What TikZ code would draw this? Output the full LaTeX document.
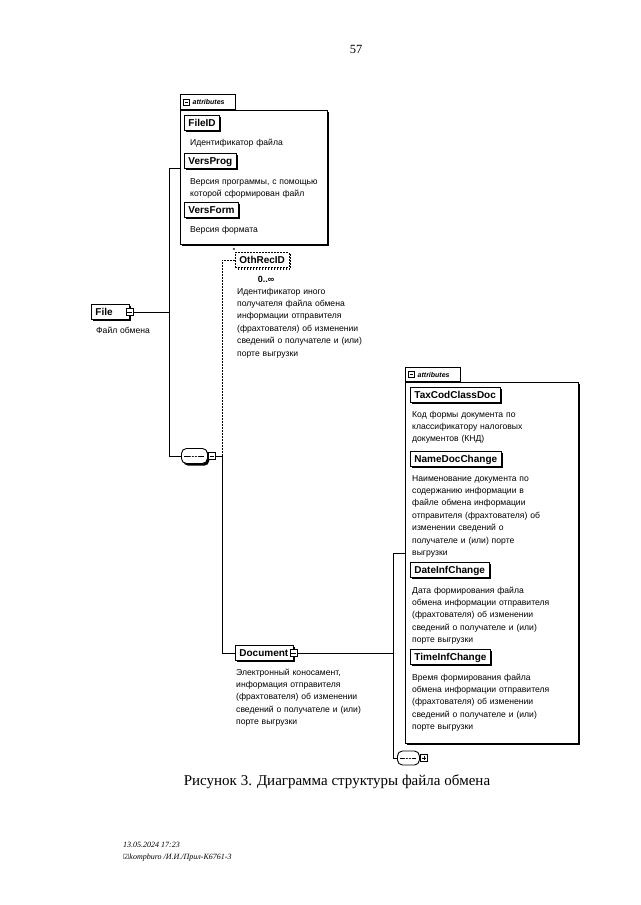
\documentclass[tikz,border=0pt]{standalone}
\usepackage{fontspec}
\setmainfont{Liberation Serif}
\newfontfamily\arialf{Liberation Sans}
\newfontfamily\dejavuf{DejaVu Sans}
\usetikzlibrary{shadows,calc}
\tikzset{
  conn/.style={line width=0.9pt},
  optconn/.style={line width=0.9pt, dash pattern=on 1.6pt off 1.4pt},
  elem/.style={draw, line width=0.8pt, fill=white, anchor=west,
    font=\arialf\fontsize{10}{11}\selectfont\bfseries,
    inner xsep=4pt, inner ysep=0pt, minimum height=14.5pt, text height=7.5pt, text depth=1.5pt,
    drop shadow={shadow xshift=1.7pt, shadow yshift=-1.7pt, fill=black, opacity=1}},
  optelem/.style={draw, line width=0.8pt, fill=white, anchor=west, dash pattern=on 1.6pt off 1.4pt,
    font=\arialf\fontsize{10}{11}\selectfont\bfseries,
    inner xsep=4pt, inner ysep=0pt, minimum height=14.5pt, text height=7.5pt, text depth=1.5pt},
  desc/.style={font=\arialf\fontsize{8.6}{12.4}\selectfont, text width=200pt, align=left,
    inner sep=0pt, anchor=base west},
  expminus/.style={draw, line width=0.7pt, fill=white, minimum size=7.5pt, inner sep=0pt,
    path picture={\draw[line width=0.7pt] ([xshift=1.3pt]path picture bounding box.west) -- ([xshift=-1.3pt]path picture bounding box.east);}},
  expplus/.style={expminus,
    path picture={\draw[line width=0.7pt] ([xshift=1.3pt]path picture bounding box.west) -- ([xshift=-1.3pt]path picture bounding box.east);
      \draw[line width=0.7pt] ([yshift=-1.3pt]path picture bounding box.north) -- ([yshift=1.3pt]path picture bounding box.south);}},
  attrbox/.style={draw, line width=0.9pt, fill=white, anchor=north west, inner sep=0pt,
    drop shadow={shadow xshift=1.2pt, shadow yshift=-1.2pt, fill=black, opacity=1}},
  attrtab/.style={draw, line width=0.9pt, fill=white, anchor=south west, inner sep=0pt},
  tabtext/.style={font=\arialf\bfseries\itshape\fontsize{7}{8}\selectfont, inner sep=0pt, anchor=west},
  seqbox/.style={draw, line width=0.9pt, fill=white, rounded corners=5pt, minimum width=26pt,
    minimum height=15pt, inner sep=0pt, anchor=west,
    path picture={\draw[line width=0.7pt] ([xshift=3pt]path picture bounding box.west) -- ([xshift=-3pt]path picture bounding box.east);
      \foreach \dx in {-3,0,3}{\fill ([xshift=\dx pt]path picture bounding box.center) circle (1pt);}}},
}
\begin{document}
\begin{tikzpicture}[x=1pt,y=-1pt]
\useasboundingbox (0,0) rectangle (640,905);
\fill[white] (0,0) rectangle (640,905);

% page number
\node[font=\fontsize{12.5}{14}\selectfont, anchor=base, inner sep=0pt] (pagenum) at (356,53) {57};

% ---------- File ----------
\node[elem, text width=30pt, align=left, inner xsep=4pt] (file) at (91,312) {File};
\node[expminus] (fileexp) at (file.east) {};
\node[desc] (filedesc) at (96,333) {Файл обмена};

% ---------- top attributes ----------
\node[attrbox, minimum width=147pt, minimum height=134pt] (attr1) at (180,110) {};
\node[attrtab, minimum width=55pt, minimum height=15pt] (tab1) at (attr1.north west) {};
\node[expminus, minimum size=6pt] (tab1exp) at ($(tab1.west)+(6.5,0)$) {};
\node[tabtext] (tab1txt) at ($(tab1.west)+(12.5,0)$) {attributes};

\node[elem] (fileid) at (184,123) {FileID};
\node[desc] (fileiddesc) at (190,145) {Идентификатор файла};
\node[elem] (versprog) at (184,161) {VersProg};
\node[desc] (versprogdesc) at (190,184) {Версия программы, с помощью\\которой сформирован файл};
\node[elem] (versform) at (184,210) {VersForm};
\node[desc] (versformdesc) at (190,232) {Версия формата};

% ---------- sequence 1 ----------
\node[seqbox, drop shadow={shadow xshift=1.8pt, shadow yshift=-2.2pt, fill=black, opacity=1}] (seq1) at (181,456) {};
\node[expminus, anchor=west] (seq1exp) at (seq1.east) {};

% ---------- OthRecID ----------
\node[optelem] (oth) at (235,260) {OthRecID};
\draw[line width=1.5pt, dash pattern=on 1.6pt off 1.4pt]
  ($(oth.north east)+(1.3,2)$) -- ($(oth.south east)+(1.3,1.3)$) -- ($(oth.south west)+(2,1.3)$);
\node[font=\arialf\bfseries\fontsize{6}{6}\selectfont, inner sep=0pt] (othmark) at ($(oth.north west)+(-1,-1.5)$) {*};
\node[font=\arialf\fontsize{9}{10}\selectfont\bfseries, anchor=base, inner sep=0pt] (othocc) at (266,282) {0..∞};
\node[desc] (othdesc) at (237,294) {Идентификатор иного\\получателя файла обмена\\информации отправителя\\(фрахтователя) об изменении\\сведений о получателе и (или)\\порте выгрузки};

% ---------- Document ----------
\node[elem, text width=50pt, align=left, inner xsep=4pt] (doc) at (235,653) {Document};
\node[expminus] (docexp) at (doc.east) {};
\node[desc] (docdesc) at (236,675) {Электронный коносамент,\\информация отправителя\\(фрахтователя) об изменении\\сведений о получателе и (или)\\порте выгрузки};

% ---------- right attributes ----------
\node[attrbox, minimum width=173pt, minimum height=361pt] (attr2) at (405,382) {};
\node[attrtab, minimum width=55pt, minimum height=14pt] (tab2) at (attr2.north west) {};
\node[expminus, minimum size=6pt] (tab2exp) at ($(tab2.west)+(6.5,0)$) {};
\node[tabtext] (tab2txt) at ($(tab2.west)+(12.5,0)$) {attributes};

\node[elem] (taxcod) at (410,395) {TaxCodClassDoc};
\node[desc] (taxcoddesc) at (412,417) {Код формы документа по\\классификатору налоговых\\документов (КНД)};
\node[elem] (namedoc) at (410,459) {NameDocChange};
\node[desc] (namedocdesc) at (412,481) {Наименование документа по\\содержанию информации в\\файле обмена информации\\отправителя (фрахтователя) об\\изменении сведений о\\получателе и (или) порте\\выгрузки};
\node[elem] (dateinf) at (410,570) {DateInfChange};
\node[desc] (dateinfdesc) at (412,593) {Дата формирования файла\\обмена информации отправителя\\(фрахтователя) об изменении\\сведений о получателе и (или)\\порте выгрузки};
\node[elem] (timeinf) at (410,657) {TimeInfChange};
\node[desc] (timeinfdesc) at (412,680) {Время формирования файла\\обмена информации отправителя\\(фрахтователя) об изменении\\сведений о получателе и (или)\\порте выгрузки};

% ---------- sequence 2 ----------
\node[seqbox, minimum width=22pt, minimum height=14pt] (seq2) at (397,758) {};
\node[expplus, anchor=west] (seq2exp) at (seq2.east) {};

% ---------- connectors ----------
\coordinate (bus1top) at (169,168);
\coordinate (bus2) at (222,456);
\coordinate (bus3top) at (393,553);
\draw[conn] (fileexp.east) -- (fileexp.east -| bus1top);
\draw[conn] (bus1top -| attr1.west) -- (bus1top) |- (seq1.west);
\draw[conn] (seq1exp.east) -- (bus2);
\draw[optconn] (bus2) |- (oth.west);
\draw[conn] (bus2) |- (doc.west);
\draw[conn] (docexp.east) -- (docexp.east -| bus3top);
\draw[conn] (bus3top -| attr2.west) -- (bus3top) |- (seq2.west);

% ---------- caption ----------
\node[font=\fontsize{15}{18}\selectfont, anchor=base, inner sep=0pt] (caption) at (337,785) {Рисунок 3. Диаграмма структуры файла обмена};

% ---------- footer ----------
\node[font=\itshape\fontsize{8}{10}\selectfont, anchor=base west, inner sep=0pt] (foot1) at (123,847) {13.05.2024 17:23};
\node[font=\itshape\fontsize{8}{10}\selectfont, anchor=base west, inner sep=0pt] (foot2) at (123,859) {{\dejavuf\upshape\fontsize{7}{8}\selectfont ☑}kompburo /И.И./Прил-К6761-3};
\end{tikzpicture}
\end{document}
